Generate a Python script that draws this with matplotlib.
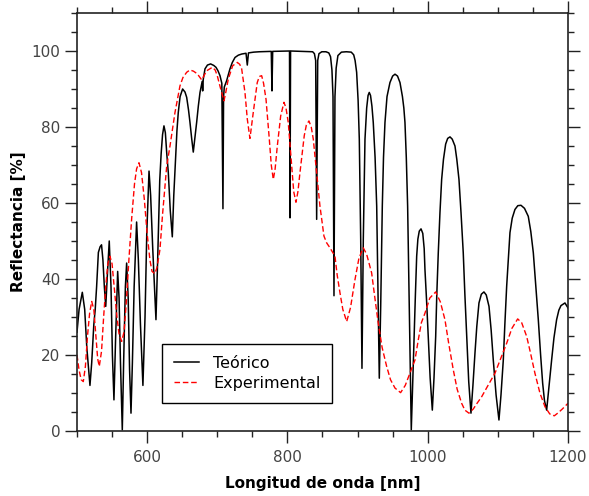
import matplotlib
matplotlib.use("Agg")
import matplotlib.pyplot as plt
from matplotlib.ticker import MultipleLocator

# Theoretical reflectance spectrum (wavelength in nm, reflectance in %)
teo_wl = [500, 503, 507.6, 511, 514, 518.5, 521, 524, 526, 528, 530.5, 533, 535,
          537, 539, 541, 543, 546, 548.5, 550.5, 552.7, 555, 558, 560, 562, 564.6,
          566.5, 569, 570.8, 573, 575, 577, 579, 581.5, 585, 587.5, 590.5, 594,
          597, 599.5, 602.7, 605, 608, 612.6, 615, 618, 620, 622, 624, 626, 628,
          630.2, 633, 635.9, 638, 640.7, 642.5, 644.4, 647, 650.6, 654, 656.4,
          659, 661.1, 663.5, 665.8, 668, 670.6, 673, 675.4, 678.5, 679.2, 680,
          682.5, 686, 690.5, 695, 698.2, 701, 703.9, 706.5, 708.1, 709, 710,
          713.4, 718.1, 721.5, 725.3, 730, 734.8, 741, 742.8, 744.5, 752, 760,
          777, 778, 779, 803, 803.7, 804.5, 836, 838.5, 840.3, 841.7, 843.2, 845,
          849, 855, 859, 861.5, 863.5, 865, 866.4, 867.8, 869.5, 872, 877, 884,
          891, 894.5, 896.5, 898.7, 900.8, 902.5, 904.5, 906.3, 908.2, 910.6, 913,
          915, 916.7, 918.5, 920.5, 922.4, 925, 927.3, 929.5, 931, 933, 935.3,
          937, 939.1, 942, 946.2, 950, 953.4, 957, 960.5, 964, 966, 967.6, 969.5,
          971.4, 973.7, 976.6, 978.5, 980.4, 982.5, 984.3, 986, 988, 990.5, 993,
          995, 996.1, 998.5, 1000.8, 1003.5, 1006.6, 1009, 1011.4, 1013, 1015.1,
          1017.5, 1019.9, 1022.5, 1025.6, 1028.5, 1031.8, 1035, 1038.9, 1041.5,
          1044.6, 1047.5, 1050.7, 1053, 1055.6, 1058.5, 1061.7, 1064.5, 1067.4,
          1070, 1073.1, 1076.5, 1080.2, 1083.5, 1087.4, 1090.5, 1093.5, 1097.5,
          1101.6, 1104.5, 1107.8, 1110, 1112.6, 1115, 1117.3, 1120.5, 1124.4,
          1128.5, 1133, 1138, 1143.4, 1147, 1150.6, 1154, 1157.7, 1161, 1163.9,
          1166.5, 1169.6, 1172.5, 1176.7, 1180, 1183.8, 1187, 1190, 1195.7, 1200]
teo_r = [26, 32, 36.5, 32, 22, 12, 18, 28, 32, 38, 47, 48.5, 49,
         45, 38, 32.8, 40, 50, 38, 20, 8.2, 24, 42, 35, 18, 0.3,
         18, 38, 44.2, 35, 16, 4.7, 18, 38, 55, 45, 28, 12,
         30, 52, 68.4, 62, 48, 29.3, 45, 66, 73, 78, 80.3, 78.5, 73,
         68, 58, 51.1, 62, 72.4, 79, 83.8, 88, 90, 89.2, 87.8,
         84.5, 81.2, 77, 73.4, 77, 81.2, 85.5, 89.1, 92, 89.5, 92.5,
         95.3, 96.3, 96.6, 96.2, 95.7, 94.8, 93.5, 91.5, 58.5, 88, 90.5,
         92.2, 95.3, 97, 98.3, 98.9, 99.2, 99.4, 96.3, 99.5, 99.7, 99.8,
         99.9, 89.5, 99.9, 100, 56.1, 100, 99.8, 99.3, 97.5, 55.7, 97.5, 99.3,
         99.8, 99.8, 99.5, 98.5, 95, 88, 35.6, 88, 95.5, 98.8, 99.7, 99.8,
         99.7, 99, 97.5, 94.4, 87, 76.8, 50.4, 16.5, 50.4, 76.8, 85,
         88.3, 89.1, 88.3, 85.5, 81.2, 72, 59.2, 32.8, 13.9, 32.8, 59.2,
         72, 81.2, 88, 91.7, 93.4, 93.9, 93.4, 91.7, 88, 85, 81.2, 72,
         59.2, 32.8, 0.3, 12, 24, 36, 46, 50.5, 52.6, 53.2, 52,
         48, 42.5, 34, 24.9, 14, 5.5, 14, 24.9, 36, 46.9,
         57.5, 66.2, 71.5, 75.5, 77, 77.4, 76.8, 75, 71.5,
         66.2, 57.5, 46.9, 36, 24.9, 13, 4.7, 12, 20.5,
         27.5, 33.7, 36, 36.6, 35.8, 32.8, 26.5, 18.7, 9.5,
         2.9, 9.5, 18.7, 28, 38.1, 45.5, 52.2, 56, 58.3,
         59.3, 59.4, 58.6, 56.5, 52.5, 46.9, 38.5, 29.3, 20, 12.6,
         8, 5.5, 11, 18.7, 24.5, 29.3, 31.8, 33, 33.7, 32.4]

# Measured reflectance spectrum
exp_wl = [500, 503, 506, 509, 512, 515, 518, 521, 524, 527, 529.5, 531.8, 535, 538,
          541, 544, 547, 550, 553, 557, 560, 563.7, 567, 570, 574, 578, 582, 585,
          588.4, 592, 596, 600, 604, 607, 611, 614, 618.3, 622, 627.9, 632.6,
          639.7, 646.8, 651, 656.4, 661, 666, 671.5, 677.8, 684.9, 692.9, 697,
          700, 704.9, 709.6, 712, 715.7, 721.9, 728.5, 732, 734.8, 739.5, 742.8,
          746.6, 751.3, 757, 760, 763.3, 766, 769.5, 774.2, 777, 779.9, 782.5,
          785.6, 790.4, 795.1, 798, 801.2, 806.1, 809, 812.2, 815, 817.9, 824,
          827, 830.7, 834, 836.9, 841.7, 846.4, 852.1, 856, 860.7, 865, 867.8,
          871, 875, 879, 884.5, 890, 896.3, 902, 908.2, 913, 920.1, 924, 929.5,
          935, 941.5, 947, 953.4, 961.4, 968, 974.7, 981.9, 986.6, 991, 996.1,
          1003, 1011.4, 1018, 1024.6, 1030, 1036.5, 1042, 1048.4, 1053, 1058.8,
          1065, 1070, 1076.9, 1086, 1095.9, 1104, 1112.6, 1120, 1128.3, 1134,
          1141.1, 1146, 1152.9, 1160, 1167.2, 1174, 1180.5, 1186, 1192, 1200]
exp_r = [20, 16, 13.5, 13, 17, 25, 31, 34.1, 32, 25, 19, 17, 21, 30,
         38, 44, 46, 44, 38, 30, 25.5, 23.6, 26, 33, 45, 56, 65, 69,
         70.6, 68, 61, 52, 45, 42, 41.4, 43, 47.8, 57, 69.7, 75,
         83.8, 90.8, 93, 94.4, 95, 94.7, 94, 92.4, 94.8, 95.7, 95,
         93.5, 90, 86.9, 89, 92.6, 96.1, 97, 96.5, 95.3, 89.1, 82.1,
         77, 83.8, 91.7, 93.3, 93.5, 91.5, 87.3, 76.8, 70, 66.2, 69,
         75, 82.9, 86.5, 85, 81.2, 69.7, 63, 60.2, 63, 68, 77.7,
         80.5, 81.6, 80, 76.8, 68, 59.2, 51.3, 49.5, 48.2, 46.9, 46,
         41, 36.3, 32, 28.8, 32.5, 39.8, 45.5, 48.2, 46.5, 41.6, 36, 28.4,
         22, 17, 13.5, 11.3, 10.1, 12, 15.2, 18.7, 24, 28.5, 31,
         35, 36.6, 34, 29.3, 23, 16.1, 11, 7.3, 5.5, 4.7,
         5.8, 7.2, 9, 12, 15.2, 19, 23.1, 27, 29.5, 28.5,
         24.9, 21, 15.2, 10, 6.4, 4.5, 4, 4.8, 5.8, 7.3]

x_ticks = [600, 800, 1000, 1200]
y_ticks = [0, 20, 40, 60, 80, 100]

fig = plt.figure(figsize=(5.89, 4.96), dpi=100)
ax = fig.add_axes([0.1307, 0.131, 0.8336, 0.8428])

ax.plot(teo_wl, teo_r, color="black", lw=1.1, label="Teórico")
ax.plot(exp_wl, exp_r, color="red", lw=1.0, dashes=(4, 2), label="Experimental")

ax.set_xlim(500, 1200)
ax.set_ylim(0, 110)
ax.set_xticks(x_ticks)
ax.set_yticks(y_ticks)
ax.xaxis.set_minor_locator(MultipleLocator(50))
ax.yaxis.set_minor_locator(MultipleLocator(5))

ax.tick_params(which="both", direction="out", top=True, right=True,
               labeltop=False, labelright=False, color="#222222", width=1.0)
ax.tick_params(which="major", length=8.6, labelsize=11, labelcolor="#444444")
ax.tick_params(which="minor", length=4.3)
ax.tick_params(axis="x", which="major", pad=5)
ax.tick_params(axis="y", which="major", pad=3.5)

for sp in ax.spines.values():
    sp.set_linewidth(1.2)
    sp.set_color("#222222")

ax.set_xlabel("Longitud de onda [nm]", fontsize=11, fontweight="bold", labelpad=8)
ax.set_ylabel("Reflectancia [%]", fontsize=11, fontweight="bold", labelpad=4)

leg = ax.legend(loc="upper left", bbox_to_anchor=(0.173, 0.208), borderaxespad=0,
                fontsize=11.5, fancybox=False, framealpha=1, edgecolor="black",
                handlelength=1.6, handletextpad=0.85, borderpad=0.75,
                labelspacing=0.3)
leg.get_frame().set_linewidth(1.0)

fig.savefig("out.png", dpi=100)
